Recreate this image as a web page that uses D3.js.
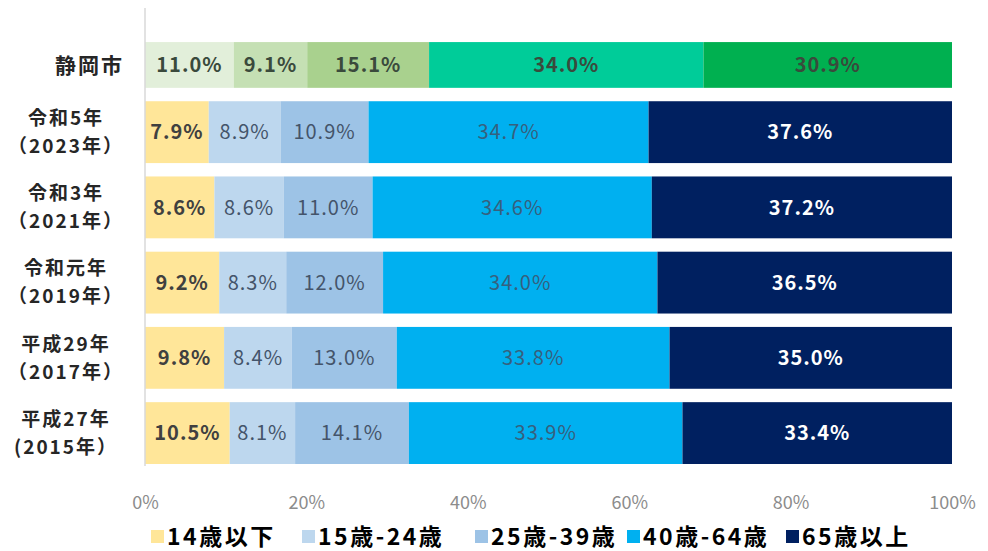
<!DOCTYPE html>
<html>
<head>
<meta charset="utf-8">
<style>
  body { margin: 0; background: #fff; }
  svg text { font-family: "Noto Sans CJK JP", "Noto Sans", sans-serif; }
</style>
</head>
<body>
<script src="https://d3js.org/d3.v7.min.js"></script>
<script>
    // categories (top to bottom), each label may have two lines
    const categories = ["静岡市", "令和5年", "令和3年", "令和元年", "平成29年", "平成27年"];
    const categoryLines = [
        ["静岡市"],
        ["令和5年", "（2023年）"],
        ["令和3年", "（2021年）"],
        ["令和元年", "（2019年）"],
        ["平成29年", "（2017年）"],
        ["平成27年", "(2015年）"]
    ];
    const seriesNames = ["14歳以下", "15歳-24歳", "25歳-39歳", "40歳-64歳", "65歳以上"];

    // percentages per category, in series order
    const shizuokaShi = [11.0, 9.1, 15.1, 34.0, 30.9];
    const reiwa5 = [7.9, 8.9, 10.9, 34.7, 37.6];
    const reiwa3 = [8.6, 8.6, 11.0, 34.6, 37.2];
    const reiwaGan = [9.2, 8.3, 12.0, 34.0, 36.5];
    const heisei29 = [9.8, 8.4, 13.0, 33.8, 35.0];
    const heisei27 = [10.5, 8.1, 14.1, 33.9, 33.4];
    const values = [shizuokaShi, reiwa5, reiwa3, reiwaGan, heisei29, heisei27];

    const xTicks = [0, 20, 40, 60, 80, 100];

    const seriesColors = ["#ffe699", "#bdd7ee", "#9dc3e6", "#00b0f0", "#002060"];
    const cityColors = ["#e2efda", "#c5e0b4", "#a9d18e", "#00cc99", "#00b050"];
    const labelStyle = [
        { fill: "#404040", weight: "bold" },
        { fill: "#44546a", weight: "normal" },
        { fill: "#44546a", weight: "normal" },
        { fill: "#36607e", weight: "normal" },
        { fill: "#ffffff", weight: "bold" }
    ];

    const width = 988;
    const height = 551;

    const x = d3.scaleLinear().domain([0, 100]).range([145, 952]);
    const y = d3.scaleBand().domain(categories).range([26, 464]).paddingInner(0.178).paddingOuter(0);

    const svg = d3.select("body").append("svg")
        .attr("width", width)
        .attr("height", height);

    // stack the rows
    const rows = values.map((vals, i) => {
        let acc = 0;
        return vals.map((v, j) => {
            const seg = { cat: categories[i], row: i, s: j, v: v, x0: acc, x1: acc + v };
            acc += v;
            return seg;
        });
    });
    const segs = rows.flat();

    const barH = d => d.row === 0 ? y.bandwidth() * 0.74 : y.bandwidth();
    const barY = d => y(d.cat) + y.bandwidth() - barH(d);

    svg.append("g").selectAll("rect")
        .data(segs)
        .enter()
        .append("rect")
        .attr("x", d => x(d.x0))
        .attr("width", d => x(Math.min(d.x1, 100)) - x(d.x0))
        .attr("y", barY)
        .attr("height", barH)
        .attr("fill", d => d.row === 0 ? cityColors[d.s] : seriesColors[d.s]);

    svg.append("g").selectAll("text")
        .data(segs)
        .enter()
        .append("text")
        .attr("x", d => (x(d.x0) + x(Math.min(d.x1, 100))) / 2)
        .attr("y", d => barY(d) + barH(d) / 2)
        .attr("dy", "0.36em")
        .attr("text-anchor", "middle")
        .style("font-size", "20px")
        .style("letter-spacing", "1px")
        .style("font-weight", d => d.row === 0 ? "bold" : labelStyle[d.s].weight)
        .attr("fill", d => d.row === 0 ? "#3a4a3c" : labelStyle[d.s].fill)
        .text(d => d.v.toFixed(1) + "%");

    // vertical axis line
    svg.append("line")
        .attr("x1", x(0)).attr("x2", x(0))
        .attr("y1", 8).attr("y2", 466)
        .attr("stroke", "#d9d9d9")
        .attr("stroke-width", 1.5);

    // category labels
    const catG = svg.append("g").selectAll("text")
        .data(categories)
        .enter()
        .append("text")
        .attr("fill", "#262626")
        .style("font-size", "19px")
        .style("font-weight", "bold")
        .style("letter-spacing", "2px");
    catG.each(function (c, i) {
        const lines = categoryLines[i];
        const t = d3.select(this);
        if (lines.length === 1) {
            const cy = y(c) + y.bandwidth() - y.bandwidth() * 0.37;
            t.attr("text-anchor", "end")
                .style("font-size", "21px")
                .append("tspan").attr("x", 124).attr("y", cy).attr("dy", "0.36em").text(lines[0]);
        } else {
            const cy = y(c) + y.bandwidth() / 2;
            t.attr("text-anchor", "middle");
            lines.forEach((ln, k) => {
                t.append("tspan")
                    .attr("x", 66)
                    .attr("y", cy + (k - 0.5) * 28)
                    .attr("dy", "0.36em")
                    .text(ln);
            });
        }
    });

    // x axis ticks
    const xAxis = d3.axisBottom(x)
        .tickValues(xTicks)
        .tickFormat(d => d + "%")
        .tickSize(0)
        .tickPadding(0);
    const axisG = svg.append("g")
        .attr("transform", "translate(0,496)")
        .call(xAxis);
    axisG.select(".domain").remove();
    axisG.selectAll("text")
        .attr("fill", "#8c8c8c")
        .style("font-size", "18px")
        .style("font-family", "\"Noto Sans CJK JP\", sans-serif");

    // legend
    const legendX = [151, 302, 475, 627, 786];
    const legend = svg.append("g").attr("transform", "translate(0,537)");
    seriesNames.forEach((name, i) => {
        legend.append("rect")
            .attr("x", legendX[i]).attr("y", -7)
            .attr("width", 13).attr("height", 13)
            .attr("fill", seriesColors[i]);
        legend.append("text")
            .attr("x", legendX[i] + 16)
            .attr("y", 0)
            .attr("dy", "0.36em")
            .attr("fill", "#000")
            .style("font-size", "23px")
            .style("font-weight", "bold")
            .style("letter-spacing", "2.5px")
            .text(name);
    });
</script>
</body>
</html>
